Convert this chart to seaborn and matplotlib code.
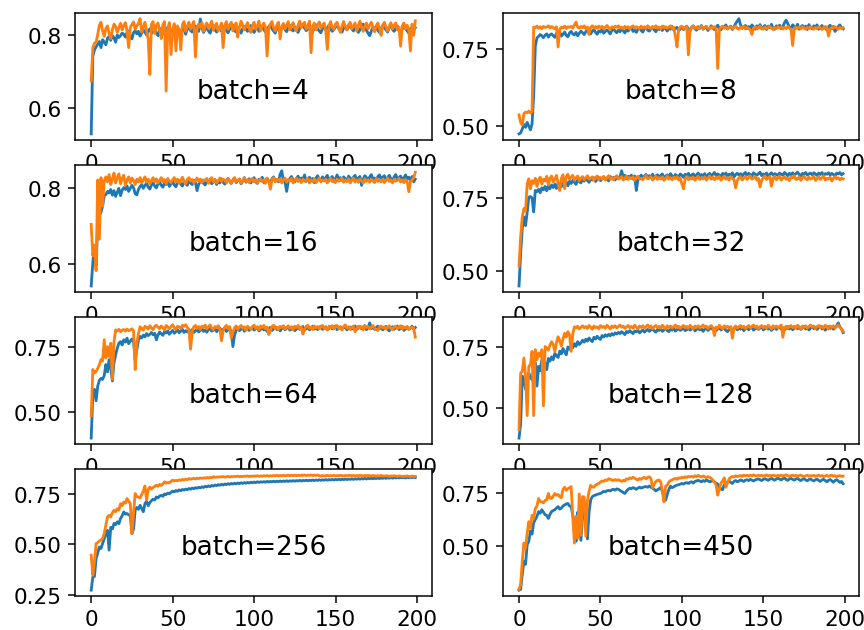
import numpy as np
import matplotlib
matplotlib.use("Agg")
import matplotlib.pyplot as plt
import seaborn as sns

# epochs (x axis)
epochs = list(range(200))

# accuracy values, in thousandths
acc_blue_4 = [
    528, 742, 760, 768, 775, 783, 766, 788, 781, 774, 792, 797, 786, 799, 793, 781, 801, 794, 799, 806,
    803, 795, 808, 812, 799, 790, 807, 813, 804, 811, 798, 806, 815, 809, 801, 812, 818, 805, 810, 816,
    808, 799, 813, 819, 811, 804, 816, 822, 809, 813, 801, 817, 823, 814, 806, 811, 820, 815, 803, 818,
    824, 813, 809, 821, 826, 815, 811, 845, 819, 808, 816, 823, 812, 806, 819, 827, 815, 809, 818, 822,
    811, 819, 826, 814, 807, 817, 823, 828, 813, 809, 820, 815, 806, 818, 825, 817, 811, 821, 827, 814,
    808, 817, 823, 811, 820, 826, 816, 809, 815, 824, 829, 818, 812, 806, 819, 825, 813, 820, 827, 816,
    810, 821, 828, 817, 812, 823, 815, 808, 819, 826, 831, 820, 813, 817, 824, 814, 809, 822, 829, 818,
    812, 807, 818, 826, 815, 821, 828, 817, 811, 816, 823, 830, 819, 813, 809, 820, 826, 815, 822, 829,
    818, 812, 824, 817, 808, 815, 826, 831, 820, 814, 806, 799, 812, 823, 818, 825, 813, 808, 819, 827,
    821, 815, 809, 822, 828, 816, 811, 820, 826, 813, 807, 818, 824, 819, 812, 806, 817, 823, 815, 821]
acc_orange_4 = [
    674, 766, 778, 781, 802, 828, 836, 812, 797, 819, 826, 805, 791, 816, 831, 824, 808, 822, 833, 815,
    827, 835, 811, 766, 821, 830, 837, 817, 826, 833, 846, 809, 822, 836, 813, 789, 692, 831, 838, 805,
    827, 834, 814, 791, 829, 838, 646, 819, 835, 747, 817, 832, 757, 826, 814, 760, 829, 838, 811, 825,
    836, 817, 828, 838, 740, 821, 831, 822, 835, 811, 826, 834, 819, 828, 839, 814, 825, 833, 812, 821,
    834, 766, 827, 838, 817, 828, 836, 812, 825, 834, 795, 822, 839, 827, 815, 826, 835, 819, 808, 828,
    836, 817, 826, 839, 812, 825, 834, 822, 743, 818, 831, 838, 821, 812, 829, 836, 790, 824, 833, 818,
    828, 838, 815, 826, 835, 820, 812, 828, 839, 821, 830, 836, 817, 826, 839, 752, 826, 834, 815, 828,
    837, 820, 826, 834, 812, 761, 826, 838, 822, 816, 831, 836, 819, 808, 826, 838, 824, 815, 829, 836,
    818, 826, 834, 812, 828, 839, 822, 811, 826, 834, 818, 828, 836, 820, 810, 826, 834, 818, 800, 828,
    836, 822, 812, 826, 835, 818, 828, 834, 815, 822, 770, 826, 834, 818, 828, 815, 757, 831, 800, 840]

acc_blue_8 = [
    476, 479, 492, 506, 497, 513, 501, 489, 508, 600, 758, 784, 789, 795, 791, 785, 793, 797, 787, 794,
    797, 791, 786, 799, 794, 801, 790, 796, 803, 792, 788, 800, 805, 797, 794, 802, 791, 799, 806, 801,
    795, 804, 809, 800, 797, 806, 811, 802, 796, 807, 803, 812, 799, 805, 810, 804, 797, 808, 813, 806,
    801, 809, 804, 815, 807, 800, 811, 806, 813, 817, 805, 809, 802, 812, 816, 808, 803, 814, 818, 809,
    806, 813, 819, 810, 804, 815, 811, 817, 808, 820, 813, 806, 816, 812, 821, 809, 815, 818, 807, 813,
    819, 811, 816, 822, 810, 807, 818, 823, 813, 809, 820, 815, 824, 812, 817, 821, 808, 814, 823, 816,
    811, 819, 825, 814, 810, 821, 816, 826, 813, 818, 822, 811, 820, 830, 838, 846, 826, 815, 820, 824,
    814, 821, 810, 826, 818, 812, 823, 816, 827, 813, 819, 824, 811, 822, 817, 828, 815, 812, 823, 819,
    825, 814, 820, 833, 841, 830, 818, 813, 826, 821, 815, 828, 812, 819, 824, 816, 822, 811, 827, 818,
    813, 823, 819, 826, 812, 817, 824, 815, 820, 809, 818, 825, 814, 821, 805, 812, 820, 826, 817, 813]
acc_orange_8 = [
    537, 512, 505, 541, 546, 544, 549, 543, 547, 819, 817, 822, 815, 820, 814, 821, 818, 819, 823, 816,
    821, 817, 813, 820, 755, 812, 819, 816, 822, 814, 820, 818, 821, 815, 826, 835, 819, 815, 821, 817,
    823, 814, 819, 795, 818, 823, 816, 821, 815, 822, 817, 821, 813, 819, 824, 817, 811, 820, 816, 822,
    818, 823, 815, 819, 813, 821, 817, 820, 812, 819, 823, 816, 820, 817, 814, 822, 816, 820, 815, 823,
    818, 814, 821, 817, 823, 815, 819, 813, 822, 817, 820, 815, 819, 823, 814, 818, 790, 755, 811, 819,
    822, 814, 818, 821, 730, 812, 819, 822, 815, 819, 813, 818, 822, 814, 818, 821, 815, 812, 819, 816,
    820, 814, 686, 811, 818, 822, 815, 819, 813, 818, 821, 814, 818, 822, 815, 812, 819, 816, 821, 813,
    818, 814, 811, 795, 816, 820, 813, 818, 822, 815, 812, 819, 814, 818, 821, 816, 811, 818, 814, 820,
    816, 820, 813, 818, 814, 821, 816, 812, 760, 814, 819, 816, 818, 813, 820, 816, 812, 818, 814, 820,
    816, 812, 818, 814, 820, 816, 811, 818, 815, 820, 790, 813, 818, 815, 820, 816, 812, 818, 814, 817]

acc_blue_16 = [
    543, 604, 648, 596, 700, 728, 735, 752, 778, 782, 790, 786, 795, 780, 792, 777, 788, 798, 779, 793,
    800, 795, 804, 790, 798, 806, 800, 784, 781, 795, 803, 808, 798, 806, 811, 801, 796, 807, 812, 804,
    799, 810, 814, 806, 801, 812, 808, 816, 803, 810, 815, 807, 802, 813, 818, 809, 804, 815, 811, 806,
    817, 812, 808, 819, 813, 792, 809, 816, 820, 811, 807, 818, 814, 822, 810, 815, 821, 808, 817, 812,
    823, 814, 809, 818, 824, 816, 811, 820, 825, 813, 818, 822, 810, 817, 826, 814, 819, 823, 812, 821,
    826, 815, 811, 822, 818, 827, 813, 820, 824, 816, 812, 823, 828, 817, 821, 815, 835, 844, 818, 814,
    790, 816, 824, 829, 820, 815, 823, 830, 818, 825, 821, 833, 816, 822, 827, 819, 824, 813, 825, 831,
    822, 817, 828, 821, 826, 832, 818, 824, 829, 816, 823, 833, 820, 826, 819, 828, 823, 817, 830, 825,
    820, 827, 832, 818, 825, 829, 806, 822, 831, 826, 819, 828, 834, 821, 825, 818, 829, 833, 822, 827,
    831, 820, 826, 832, 823, 818, 828, 834, 821, 826, 830, 819, 825, 833, 822, 827, 820, 829, 815, 822]
acc_orange_16 = [
    704, 622, 650, 583, 820, 665, 826, 752, 818, 828, 815, 834, 808, 822, 838, 812, 826, 836, 810, 824,
    832, 806, 820, 828, 812, 825, 818, 808, 822, 815, 826, 812, 820, 828, 814, 822, 810, 818, 826, 815,
    823, 812, 819, 826, 815, 821, 810, 824, 817, 813, 820, 826, 815, 822, 811, 819, 827, 816, 810, 821,
    826, 817, 821, 812, 819, 825, 816, 822, 813, 820, 818, 824, 811, 820, 826, 815, 821, 812, 818, 825,
    816, 822, 819, 812, 824, 817, 811, 820, 826, 815, 819, 823, 812, 818, 825, 816, 821, 813, 820, 824,
    815, 821, 812, 818, 823, 816, 820, 811, 825, 817, 796, 820, 826, 815, 822, 818, 823, 812, 820, 825,
    814, 821, 817, 824, 812, 819, 825, 816, 821, 813, 822, 817, 819, 824, 812, 820, 816, 823, 813, 819,
    825, 815, 820, 817, 822, 812, 819, 824, 816, 820, 813, 822, 817, 819, 825, 814, 820, 816, 823, 812,
    819, 825, 815, 820, 814, 822, 817, 812, 823, 816, 820, 814, 821, 818, 813, 824, 816, 820, 815, 822,
    813, 819, 825, 816, 820, 812, 822, 817, 819, 824, 815, 820, 813, 821, 817, 789, 815, 820, 826, 840]

acc_blue_32 = [
    447, 560, 645, 685, 655, 700, 753, 755, 750, 702, 776, 772, 780, 768, 785, 778, 790, 775, 792, 782,
    795, 786, 798, 783, 801, 793, 789, 803, 797, 806, 792, 808, 800, 811, 804, 797, 813, 807, 802, 815,
    808, 817, 811, 804, 818, 812, 820, 807, 815, 821, 810, 817, 823, 813, 819, 809, 824, 816, 821, 812,
    826, 818, 823, 844, 822, 828, 817, 825, 820, 829, 815, 826, 776, 812, 822, 829, 818, 826, 831, 820,
    827, 823, 832, 818, 826, 830, 821, 828, 833, 819, 825, 830, 822, 834, 826, 820, 831, 827, 823, 833,
    828, 821, 832, 826, 835, 822, 829, 833, 824, 830, 836, 825, 831, 827, 834, 822, 830, 835, 826, 832,
    838, 827, 833, 829, 824, 835, 830, 836, 826, 832, 828, 837, 823, 831, 835, 829, 834, 826, 833, 838,
    829, 835, 831, 826, 837, 832, 828, 834, 839, 827, 833, 830, 836, 825, 832, 837, 829, 834, 831, 827,
    836, 832, 829, 838, 833, 827, 835, 830, 837, 828, 834, 839, 831, 826, 835, 832, 838, 829, 833, 836,
    830, 837, 833, 828, 836, 831, 838, 827, 834, 832, 837, 829, 835, 831, 826, 836, 833, 838, 830, 834]
acc_orange_32 = [
    515, 617, 685, 714, 705, 799, 816, 782, 810, 800, 818, 790, 812, 822, 798, 815, 808, 825, 795, 818,
    826, 805, 816, 828, 800, 776, 818, 830, 782, 824, 832, 815, 822, 828, 812, 820, 826, 810, 818, 824,
    813, 820, 827, 815, 818, 823, 811, 819, 826, 814, 821, 816, 824, 812, 819, 827, 815, 820, 813, 822,
    826, 815, 819, 824, 812, 818, 826, 814, 821, 817, 823, 811, 820, 825, 815, 818, 813, 822, 827, 816,
    819, 824, 812, 818, 825, 814, 821, 816, 823, 811, 819, 826, 815, 820, 813, 822, 817, 824, 812, 819,
    798, 782, 817, 824, 813, 820, 815, 822, 811, 818, 825, 814, 820, 816, 823, 812, 819, 826, 815, 821,
    813, 822, 817, 824, 811, 818, 825, 815, 820, 812, 823, 817, 814, 785, 810, 819, 824, 812, 818, 825,
    814, 820, 826, 815, 819, 823, 812, 818, 788, 812, 820, 826, 814, 819, 824, 791, 818, 825, 813, 820,
    826, 812, 819, 824, 815, 818, 810, 823, 820, 827, 814, 816, 823, 811, 819, 825, 817, 813, 822, 815,
    819, 825, 811, 817, 823, 814, 820, 826, 812, 818, 815, 822, 809, 818, 824, 816, 820, 813, 819, 816]

acc_blue_64 = [
    401, 569, 588, 544, 600, 622, 630, 626, 641, 683, 655, 702, 668, 620, 690, 721, 746, 765, 771, 758,
    778, 769, 784, 763, 772, 781, 770, 702, 738, 776, 791, 785, 796, 789, 802, 794, 799, 806, 797, 803,
    778, 796, 808, 801, 795, 810, 804, 812, 799, 807, 814, 803, 809, 816, 805, 811, 818, 806, 813, 808,
    815, 809, 817, 806, 812, 819, 808, 814, 820, 810, 816, 807, 818, 822, 811, 815, 821, 809, 817, 823,
    812, 818, 824, 810, 816, 821, 808, 752, 796, 815, 822, 813, 819, 825, 811, 817, 823, 814, 820, 826,
    815, 821, 827, 812, 818, 824, 816, 822, 810, 819, 826, 814, 820, 827, 817, 823, 812, 821, 828, 816,
    822, 829, 815, 820, 826, 813, 819, 827, 818, 823, 829, 814, 821, 826, 816, 822, 830, 819, 824, 817,
    825, 830, 818, 823, 828, 816, 822, 829, 820, 825, 831, 817, 823, 828, 819, 824, 830, 816, 822, 827,
    819, 825, 831, 818, 823, 829, 820, 826, 832, 817, 824, 843, 821, 827, 818, 825, 830, 820, 826, 816,
    823, 829, 819, 812, 822, 828, 818, 825, 831, 817, 823, 829, 814, 820, 827, 818, 824, 830, 819, 825]
acc_orange_64 = [
    487, 664, 651, 657, 668, 682, 702, 696, 778, 708, 752, 714, 765, 626, 771, 816, 812, 818, 809, 815,
    817, 811, 819, 813, 816, 820, 812, 664, 765, 801, 828, 822, 815, 830, 826, 819, 832, 824, 817, 829,
    834, 826, 821, 831, 825, 815, 833, 827, 820, 829, 836, 824, 818, 830, 827, 821, 834, 829, 836, 825,
    819, 742, 808, 828, 833, 822, 829, 818, 831, 825, 834, 820, 828, 835, 823, 817, 829, 826, 832, 819,
    774, 812, 826, 833, 821, 829, 785, 808, 824, 831, 818, 827, 833, 822, 828, 815, 830, 824, 818, 829,
    834, 822, 828, 817, 831, 825, 833, 820, 827, 798, 815, 829, 834, 821, 827, 818, 830, 825, 832, 819,
    826, 831, 822, 828, 816, 830, 825, 833, 820, 827, 800, 818, 829, 834, 822, 827, 817, 831, 824, 829,
    820, 828, 833, 822, 826, 816, 830, 824, 832, 819, 827, 833, 821, 826, 815, 829, 835, 823, 828, 818,
    826, 831, 809, 818, 830, 824, 828, 816, 832, 825, 829, 820, 827, 833, 821, 818, 814, 826, 831, 823,
    828, 819, 826, 832, 822, 817, 827, 830, 821, 825, 832, 819, 827, 823, 829, 818, 824, 826, 822, 788]

acc_blue_128 = [
    375, 433, 629, 615, 575, 596, 642, 624, 614, 641, 683, 588, 669, 651, 696, 662, 684, 655, 701, 690,
    708, 696, 722, 712, 705, 731, 720, 742, 728, 716, 748, 739, 756, 745, 762, 751, 770, 758, 765, 776,
    768, 780, 772, 785, 776, 770, 788, 781, 792, 784, 779, 795, 789, 798, 792, 800, 794, 803, 797, 806,
    801, 808, 803, 811, 805, 799, 812, 807, 815, 808, 803, 814, 810, 817, 806, 812, 818, 809, 815, 820,
    812, 818, 822, 814, 809, 820, 816, 823, 812, 818, 824, 815, 811, 821, 817, 825, 813, 819, 824, 816,
    821, 826, 815, 819, 825, 817, 822, 828, 814, 820, 826, 818, 823, 812, 821, 827, 816, 822, 828, 819,
    824, 815, 822, 829, 818, 823, 828, 816, 811, 820, 826, 817, 823, 829, 818, 825, 821, 827, 815, 823,
    829, 819, 825, 830, 817, 823, 828, 820, 826, 831, 818, 824, 829, 821, 827, 816, 823, 830, 820, 826,
    831, 821, 827, 818, 824, 832, 822, 828, 819, 825, 831, 823, 829, 820, 826, 833, 822, 828, 818, 825,
    832, 823, 829, 820, 827, 834, 822, 828, 817, 825, 832, 824, 830, 821, 827, 835, 847, 831, 822, 807]
acc_orange_128 = [
    410, 642, 648, 703, 629, 467, 669, 676, 730, 467, 737, 696, 723, 710, 737, 507, 750, 743, 735, 756,
    770, 758, 730, 766, 790, 774, 752, 781, 804, 789, 811, 798, 730, 802, 831, 826, 833, 822, 829, 835,
    827, 832, 824, 836, 829, 821, 834, 827, 831, 823, 836, 828, 833, 825, 837, 830, 822, 834, 828, 835,
    826, 832, 838, 829, 834, 824, 831, 836, 827, 833, 825, 837, 830, 822, 834, 828, 835, 826, 832, 838,
    828, 834, 823, 831, 836, 827, 833, 825, 837, 829, 822, 835, 828, 834, 826, 832, 838, 827, 833, 824,
    831, 836, 827, 833, 825, 837, 830, 822, 834, 828, 835, 826, 832, 838, 829, 834, 824, 831, 836, 827,
    795, 830, 825, 837, 829, 822, 835, 828, 833, 826, 832, 784, 827, 834, 825, 831, 836, 827, 833, 824,
    830, 836, 826, 832, 838, 828, 834, 823, 831, 836, 827, 833, 825, 837, 829, 822, 835, 828, 834, 826,
    832, 838, 788, 827, 833, 824, 831, 836, 827, 833, 825, 837, 830, 822, 834, 828, 835, 826, 832, 838,
    829, 834, 824, 831, 836, 827, 833, 825, 837, 830, 822, 834, 828, 835, 826, 832, 838, 829, 822, 812]

acc_blue_256 = [
    272, 337, 340, 428, 455, 486, 478, 503, 527, 551, 568, 470, 583, 575, 602, 596, 610, 601, 626, 640,
    659, 648, 651, 645, 640, 552, 575, 668, 681, 672, 692, 676, 660, 700, 712, 690, 705, 715, 722, 718,
    733, 728, 738, 741, 736, 748, 745, 752, 749, 756, 762, 758, 765, 761, 768, 764, 770, 767, 772, 769,
    775, 771, 777, 774, 779, 776, 781, 778, 783, 780, 786, 783, 788, 784, 790, 787, 792, 789, 794, 791,
    796, 792, 797, 794, 799, 795, 800, 797, 801, 798, 802, 799, 803, 800, 804, 801, 805, 802, 806, 803,
    807, 804, 808, 805, 808, 806, 809, 806, 810, 807, 810, 808, 811, 808, 811, 809, 812, 809, 812, 810,
    813, 810, 813, 811, 814, 811, 814, 812, 815, 812, 815, 813, 816, 813, 816, 814, 817, 814, 817, 815,
    818, 815, 818, 816, 819, 816, 819, 817, 820, 817, 820, 818, 821, 818, 821, 819, 822, 819, 822, 820,
    823, 820, 823, 821, 824, 821, 824, 822, 825, 822, 825, 823, 826, 823, 826, 824, 827, 824, 827, 825,
    828, 825, 828, 826, 829, 826, 829, 827, 830, 827, 830, 828, 830, 827, 831, 828, 831, 829, 831, 829]
acc_orange_256 = [
    445, 346, 412, 502, 508, 515, 520, 527, 552, 593, 634, 642, 634, 655, 667, 660, 675, 668, 700, 690,
    708, 702, 725, 712, 700, 552, 655, 750, 735, 733, 728, 745, 762, 787, 718, 770, 782, 772, 780, 785,
    791, 786, 795, 790, 797, 808, 801, 805, 803, 810, 816, 812, 815, 813, 818, 815, 820, 817, 821, 819,
    824, 821, 823, 825, 822, 826, 824, 827, 825, 828, 826, 829, 827, 830, 828, 833, 830, 832, 831, 833,
    832, 834, 831, 833, 835, 832, 834, 833, 835, 834, 836, 833, 835, 834, 836, 835, 837, 834, 836, 835,
    837, 836, 838, 835, 837, 836, 838, 837, 839, 836, 838, 837, 839, 838, 840, 837, 839, 838, 840, 838,
    839, 841, 838, 840, 839, 841, 838, 840, 839, 841, 840, 842, 839, 841, 840, 842, 839, 841, 840, 842,
    838, 836, 839, 837, 838, 840, 837, 839, 838, 840, 837, 839, 838, 840, 839, 837, 839, 838, 840, 839,
    838, 840, 837, 839, 838, 840, 839, 837, 839, 838, 840, 838, 837, 839, 838, 836, 838, 837, 839, 837,
    836, 838, 837, 835, 837, 836, 838, 836, 835, 837, 836, 834, 836, 835, 837, 835, 834, 836, 835, 835]

acc_blue_450 = [
    286, 290, 362, 425, 410, 504, 520, 570, 555, 610, 625, 640, 663, 655, 672, 660, 648, 645, 630, 650,
    663, 668, 672, 680, 687, 675, 680, 690, 695, 700, 702, 690, 688, 645, 615, 520, 660, 630, 525, 645,
    678, 600, 532, 660, 720, 735, 740, 742, 746, 748, 750, 755, 760, 758, 763, 765, 762, 768, 770, 766,
    772, 770, 765, 760, 755, 750, 762, 770, 775, 773, 778, 775, 770, 776, 780, 776, 779, 782, 783, 780,
    786, 780, 775, 770, 762, 768, 772, 780, 760, 740, 718, 745, 770, 785, 778, 782, 787, 790, 792, 795,
    798, 795, 800, 802, 798, 804, 806, 800, 808, 810, 813, 810, 806, 812, 808, 814, 811, 806, 809, 812,
    805, 800, 795, 780, 772, 768, 792, 800, 806, 810, 803, 798, 808, 812, 806, 810, 815, 812, 808, 814,
    816, 812, 818, 814, 810, 815, 818, 820, 816, 812, 818, 821, 817, 813, 819, 822, 818, 814, 820, 823,
    819, 815, 821, 824, 817, 813, 820, 822, 818, 814, 819, 823, 816, 812, 818, 821, 815, 811, 817, 820,
    814, 810, 816, 819, 813, 808, 815, 818, 812, 806, 813, 817, 811, 804, 812, 816, 810, 803, 808, 797]
acc_orange_450 = [
    290, 314, 425, 512, 488, 560, 615, 583, 646, 630, 678, 690, 726, 712, 710, 705, 717, 720, 750, 728,
    726, 738, 750, 742, 745, 735, 730, 770, 780, 765, 773, 778, 783, 640, 512, 640, 535, 748, 550, 735,
    733, 545, 715, 760, 789, 782, 780, 790, 795, 798, 805, 810, 808, 815, 812, 821, 818, 815, 812, 817,
    813, 816, 812, 808, 813, 810, 820, 818, 825, 822, 828, 823, 818, 815, 822, 818, 825, 827, 820, 828,
    830, 822, 776, 795, 808, 812, 815, 805, 760, 710, 785, 790, 805, 812, 815, 820, 822, 818, 825, 823,
    828, 825, 830, 827, 832, 829, 833, 828, 835, 831, 837, 832, 829, 834, 830, 826, 831, 828, 822, 815,
    805, 790, 742, 770, 800, 810, 825, 780, 800, 820, 828, 832, 829, 835, 831, 834, 836, 832, 838, 835,
    837, 834, 838, 835, 839, 836, 834, 838, 835, 837, 833, 836, 839, 834, 837, 835, 838, 836, 833, 837,
    835, 838, 834, 837, 839, 835, 832, 836, 838, 834, 837, 833, 836, 838, 834, 831, 835, 837, 833, 836,
    834, 837, 832, 835, 838, 833, 836, 831, 834, 837, 832, 835, 838, 833, 836, 830, 834, 836, 832, 833]

batch_sizes = [4, 8, 16, 32, 64, 128, 256, 450]
blue_series = [acc_blue_4, acc_blue_8, acc_blue_16, acc_blue_32,
               acc_blue_64, acc_blue_128, acc_blue_256, acc_blue_450]
orange_series = [acc_orange_4, acc_orange_8, acc_orange_16, acc_orange_32,
                 acc_orange_64, acc_orange_128, acc_orange_256, acc_orange_450]

plt.rcParams["xtick.labelsize"] = 11.5
plt.rcParams["ytick.labelsize"] = 11.5

fig, axes = plt.subplots(4, 2, figsize=(6.4, 4.674), dpi=135)
fig.subplots_adjust(left=0.0868, right=0.9946, top=0.978, bottom=0.054,
                    wspace=0.2, hspace=0.2)

for ax, bs, blue, orange in zip(axes.flat, batch_sizes, blue_series, orange_series):
    sns.lineplot(x=epochs, y=np.array(blue) / 1000, ax=ax, color="#1f77b4", linewidth=1.5)
    sns.lineplot(x=epochs, y=np.array(orange) / 1000, ax=ax, color="#ff7f0e", linewidth=1.5)
    ax.text(0.5, 0.385, f"batch={bs}", transform=ax.transAxes,
            ha="center", va="center", fontsize=14)

fig.savefig("out.png", dpi=135)
